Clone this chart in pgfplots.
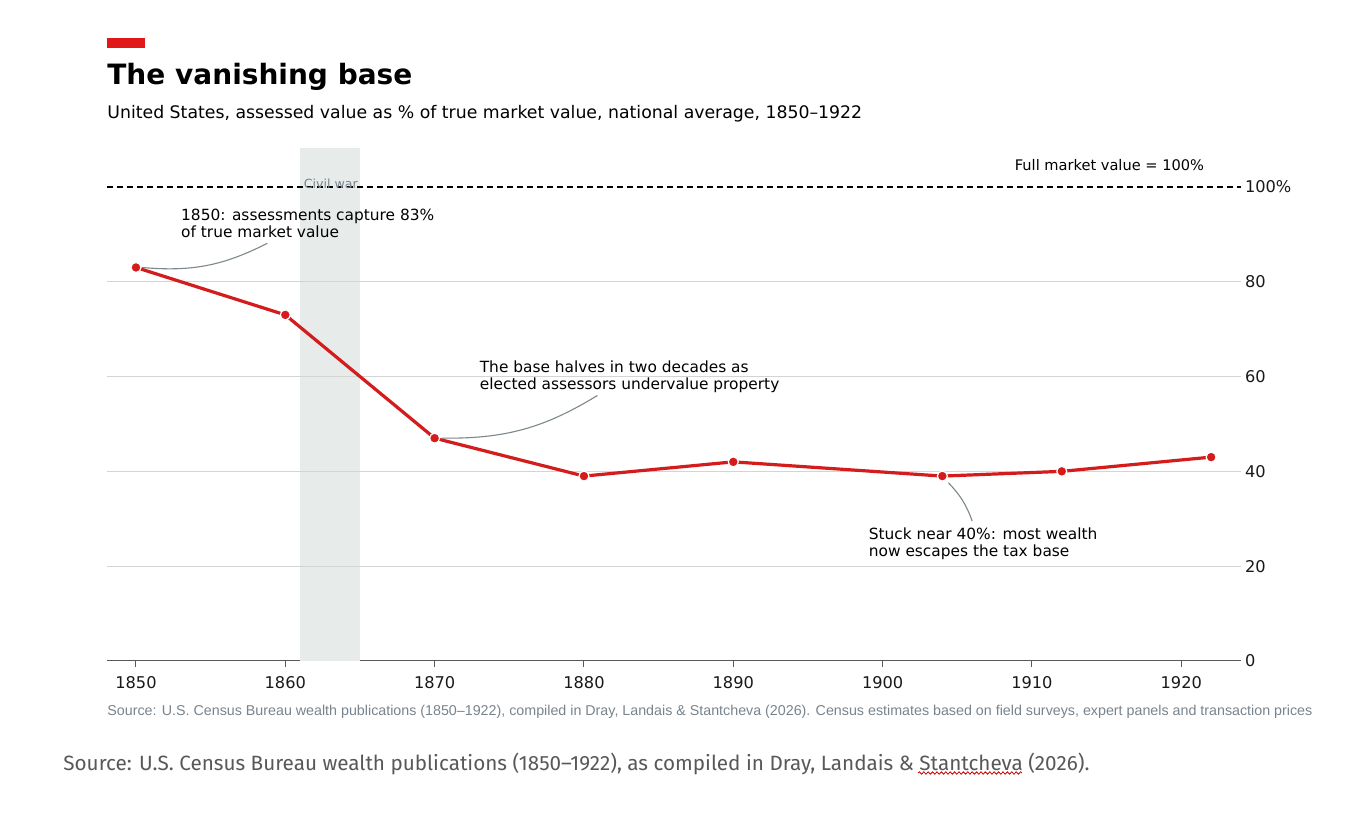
\documentclass[border=0pt]{standalone}
\usepackage{pgfplots}
\pgfplotsset{compat=1.18}
\usepackage{fontspec}
\setmainfont{DejaVu Sans}
\newfontfamily\srcfont{Liberation Sans}
\newfontfamily\botfont{Fira Sans}
\usetikzlibrary{decorations.pathmorphing}
\definecolor{cred}{RGB}{212,28,28}
\definecolor{barred}{RGB}{226,24,24}
\definecolor{cwshade}{RGB}{231,236,234}
\definecolor{gridc}{RGB}{212,212,212}
\definecolor{conn}{RGB}{125,135,140}
\definecolor{slate}{RGB}{120,132,142}
\definecolor{botgrey}{RGB}{88,88,88}
\begin{document}
\begin{tikzpicture}
\fill[white] (0,0) rectangle (677.5pt,407pt);
\begin{axis}[
  at={(53.5pt,76.5pt)}, anchor=south west,
  scale only axis, width=567pt, height=256.5pt,
  xmin=1848.06, xmax=1924.0, ymin=0, ymax=108.2,
  axis x line*=bottom, axis y line*=right,
  axis line style={-},
  y axis line style={draw=none},
  x axis line style={draw=black!65, line width=0.5pt},
  xtick={1850,1860,1870,1880,1890,1900,1910,1920},
  xticklabels={1850,1860,1870,1880,1890,1900,1910,1920},
  ytick={0,20,40,60,80,100},
  yticklabels={0,20,40,60,80,100\%},
  ytick style={draw=none},
  xtick style={draw=black!65, line width=0.5pt},
  tick align=outside, major tick length=3pt,
  x tick label style={font=\fontsize{8.1}{9}\selectfont, text=black!90, yshift=-1pt},
  y tick label style={font=\fontsize{8.1}{9}\selectfont, text=black!90, xshift=-4.5pt},
  clip=false,
]
\fill[cwshade] (axis cs:1861,0) rectangle (axis cs:1865,108.2);
\foreach \g in {20,40,60,80}{
  \edef\tmp{\noexpand\draw[gridc, line width=0.5pt] (axis cs:1848.06,\g) -- (axis cs:1924.0,\g);}\tmp
}
\draw[black, line width=0.75pt, dash pattern=on 3pt off 2pt] (axis cs:1848.06,100) -- (axis cs:1924.0,100);
\node[font=\fontsize{6.3}{7}\selectfont, text=slate, inner sep=0] at (axis cs:1863.05,100.7) {Civil war};
\node[font=\fontsize{7.3}{8}\selectfont, anchor=east, inner sep=0] at (axis cs:1921.55,104.6) {Full market value = 100\%};
\draw[conn, line width=0.55pt] (axis cs:1850.4,83) to[bend right=16] (axis cs:1858.8,88.1);
\draw[conn, line width=0.55pt] (axis cs:1870.5,47) to[bend right=16] (axis cs:1880.9,56);
\draw[conn, line width=0.55pt] (axis cs:1904.4,37.6) to[bend left=12] (axis cs:1906.0,29.5);
\addplot[cred, line width=1.6pt, mark=*, mark size=2.5pt,
  mark options={fill=cred, draw=white, line width=0.6pt}]
  coordinates {(1850,83) (1860,73) (1870,47) (1880,39) (1890,42) (1904,39) (1912,40) (1922,43)};
\node[anchor=north west, inner sep=0, align=left, font=\fontsize{7.7}{8.6}\selectfont] at (axis cs:1853.0,95.5)
  {1850: assessments capture 83\%\\of true market value};
\node[anchor=north west, inner sep=0, align=left, font=\fontsize{7.7}{8.6}\selectfont] at (axis cs:1873.0,63.4)
  {The base halves in two decades as\\elected assessors undervalue property};
\node[anchor=north west, inner sep=0, align=left, font=\fontsize{7.7}{8.6}\selectfont] at (axis cs:1899.05,28.2)
  {Stuck near 40\%: most wealth\\now escapes the tax base};
\end{axis}
\begin{scope}[x=0.5pt, y=-0.5pt, shift={(0,407pt)}]
\fill[barred] (107,38) rectangle (145,48.5);
\node[anchor=base west, inner sep=0, font=\fontsize{14}{16}\bfseries\selectfont] at (107,85) {The vanishing base};
\node[anchor=base west, inner sep=0, font=\fontsize{8.65}{10}\selectfont] at (107,119) {United States, assessed value as \% of true market value, national average, 1850–1922};
\node[anchor=west, inner sep=0, text=slate] at (107,712) {\resizebox{602.5pt}{!}{\srcfont Source: U.S. Census Bureau wealth publications (1850–1922), compiled in Dray, Landais \& Stantcheva (2026). Census estimates based on field surveys, expert panels and transaction prices}};
\node[anchor=west, inner sep=0, text=botgrey] at (63,764) {\resizebox{513pt}{!}{\botfont Source: U.S. Census Bureau wealth publications (1850–1922), as compiled in Dray, Landais \& Stantcheva (2026).}};
\draw[red!80!black, line width=0.4pt, decorate, decoration={snake, amplitude=0.6pt, segment length=2.2pt}] (918,773) -- (1022,773);
\end{scope}
\pgfresetboundingbox
\useasboundingbox (0,0) rectangle (677.5pt,407pt);
\end{tikzpicture}
\end{document}
